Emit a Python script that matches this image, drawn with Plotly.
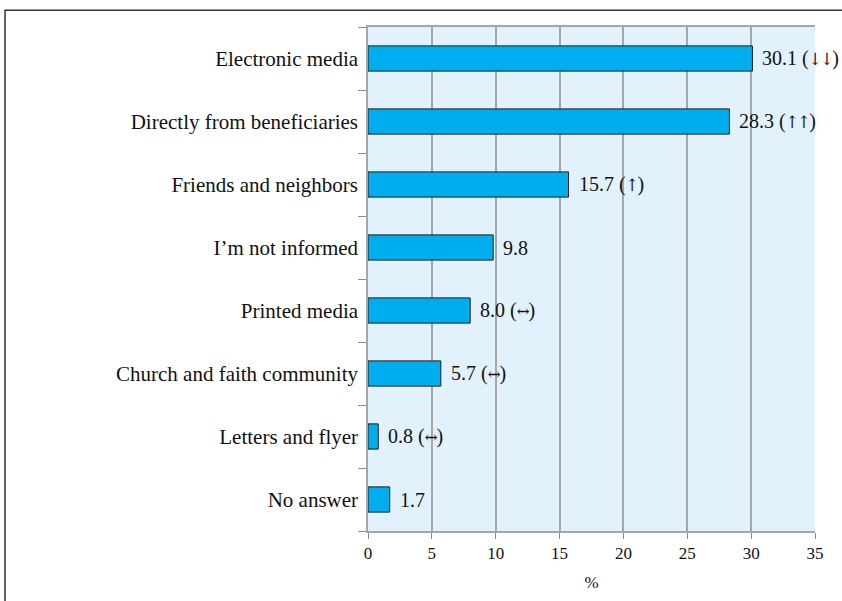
import plotly.graph_objects as go

categories = ["Electronic media", "Directly from beneficiaries", "Friends and neighbors",
              "I’m not informed", "Printed media", "Church and faith community",
              "Letters and flyer", "No answer"]
values = [30.1, 28.3, 15.7, 9.8, 8.0, 5.7, 0.8, 1.7]
trends = ["↓↓", "↑↑", "↑", "", "↔", "↔", "↔", ""]
x_ticks = [0, 5, 10, 15, 20, 25, 30, 35]

FONT = "Liberation Serif"
ARROW_FONT = "DejaVu Serif Condensed"

fig = go.Figure()
fig.add_trace(go.Bar(
    y=categories, x=values, orientation="h",
    marker=dict(color="#00AEEF", line=dict(color="#1a1a1a", width=1)),
    width=0.4, hoverinfo="skip",
))

for c, v, t in zip(categories, values, trends):
    label = f"{v:.1f}"
    if t:
        label += f" (<span style='font-family:{ARROW_FONT};font-size:17px;letter-spacing:-1px'>{t}</span>)"
    fig.add_annotation(x=v, y=c, text=label, showarrow=False,
                       xanchor="left", xshift=9, borderpad=0,
                       font=dict(family=FONT, size=20, color="#111111"))

fig.add_shape(type="rect", xref="paper", yref="paper",
              x0=-0.812, x1=1.2, y0=-0.3, y1=1.0334,
              line=dict(color="#333333", width=1.5), layer="below")

fig.update_layout(
    width=842, height=601,
    margin=dict(l=368, r=27, t=27, b=65),
    paper_bgcolor="white", plot_bgcolor="#E1F2FC",
    showlegend=False,
    font=dict(family=FONT, color="#111111"),
    xaxis=dict(range=[0, 35], tickvals=x_ticks, ticks="outside", ticklen=6,
               tickcolor="#8a8a8a", showgrid=True, gridcolor="#A6A6A6", gridwidth=1.5,
               showline=True, linecolor="#A6A6A6", linewidth=1.5, mirror=True,
               zeroline=False, tickfont=dict(size=17),
               title=dict(text="%", font=dict(size=17), standoff=14)),
    yaxis=dict(categoryorder="array", categoryarray=categories[::-1],
               tickson="boundaries", ticks="outside", ticklen=8, tickcolor="#8a8a8a",
               showgrid=False, showline=True, linecolor="#A6A6A6", linewidth=1.5,
               tickfont=dict(size=21), ticklabelstandoff=4),
)

fig.write_html("out.html")
